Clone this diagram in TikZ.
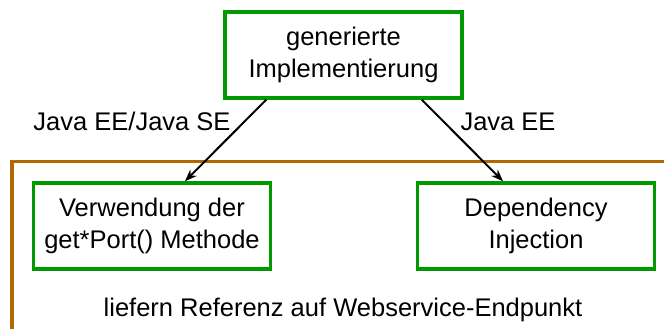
\documentclass[tikz,border=0pt]{standalone}
\usepackage{fontspec}
\setmainfont{Liberation Sans}
\usetikzlibrary{arrows.meta,positioning}
\definecolor{boxgreen}{RGB}{0,153,0}
\definecolor{framebrown}{RGB}{176,104,0}
\tikzset{%
   kasten/.style={draw=boxgreen, line width=3.5pt, minimum width=237pt, minimum height=86pt,
     align=center, inner sep=0pt, font=\fontsize{25.5}{32}\selectfont},
   pfeil/.style={-{Stealth[length=12pt,width=9pt]}, line width=2pt},
   beschr/.style={anchor=base, inner sep=0pt, font=\fontsize{25.5}{30}\selectfont},
}

\begin{document}
\begin{tikzpicture}[x=1pt, y=-1pt]
      \useasboundingbox (0,0) rectangle (664,329);
      % rahmen (offen nach rechts und unten)
      \draw[framebrown, line width=3.5pt] (12,340) -- (12,161.5) -- (680,161.5);
      \node[kasten] (impl) at (343.5,55) {generierte\\Implementierung};
      \node[kasten] (port) at (152,226) {Verwendung der\\get*Port() Methode};
      \node[kasten] (inj) at (536,226) {Dependency\\Injection};
      \draw[pfeil] ([xshift=43pt]impl.south west) -- ([xshift=33pt]port.north);
      \draw[pfeil] ([xshift=-42pt]impl.south east) -- ([xshift=-33pt]inj.north);
      \node[beschr] (se) at (132,130) {Java EE/Java SE};
      \node[beschr] (ee) at (508,130) {Java EE};
      \node[beschr] (ref) at (343,316) {liefern Referenz auf Webservice-Endpunkt};
   \end{tikzpicture}
\end{document}
